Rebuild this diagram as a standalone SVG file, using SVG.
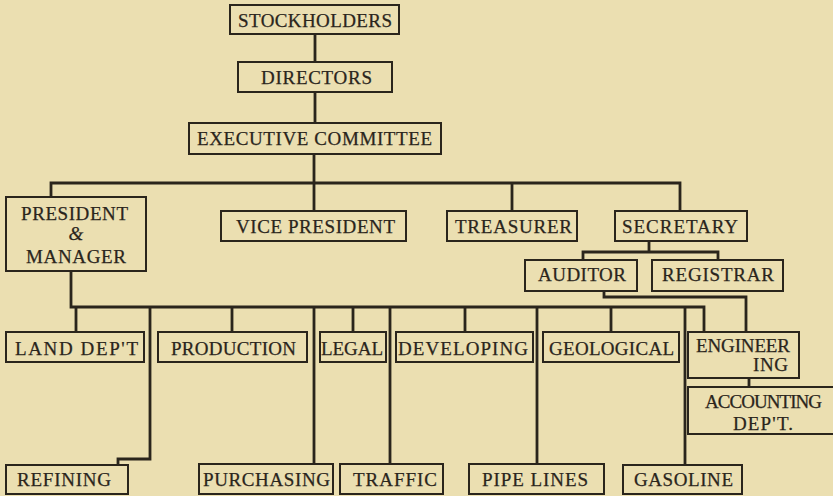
<svg xmlns="http://www.w3.org/2000/svg" width="833" height="496" viewBox="0 0 833 496">
<style>
.bg{fill:#ebdfb1}
.box{fill:none;stroke:#2a251c;stroke-width:2}
.c{fill:none;stroke:#2a251c;stroke-width:2.8;stroke-linejoin:miter}
text{font-family:'Liberation Serif','Times New Roman',serif;font-size:19px;fill:#2a251c;stroke:#2a251c;stroke-width:0.25}
</style>
<rect class="bg" x="0" y="0" width="833" height="496"/>
<g id="connectors">
<path class="c" d="M315,34 V62 M315,92 V123 M314,154 V211"/>
<path class="c" d="M51,197 V183 H680 V211 M512,183 V211"/>
<path class="c" d="M649,241 V252 M583,260 V252 H718 V260"/>
<path class="c" d="M604,291 V297 H746 V332"/>
<path class="c" d="M71,271 V307 H704 V332"/>
<path class="c" d="M76,307 V332 M150,307 V459 H118 V465 M232,307 V332 M314,307 V464 M353,307 V332 M390,307 V464 M465,307 V332 M537,307 V464 M611,307 V332 M685,307 V465"/>
<path class="c" d="M749,378 V387"/>
</g>
<g id="stockholders"><rect class="box" x="230" y="5" width="169" height="29"/><text x="238" y="27" textLength="154" lengthAdjust="spacing">STOCKHOLDERS</text></g>
<g id="directors"><rect class="box" x="238" y="62" width="154" height="30"/><text x="261" y="84" textLength="111" lengthAdjust="spacing">DIRECTORS</text></g>
<g id="executive"><rect class="box" x="189" y="123" width="252" height="31"/><text x="197" y="145" textLength="235" lengthAdjust="spacing">EXECUTIVE COMMITTEE</text></g>
<g id="president"><rect class="box" x="6" y="197" width="140" height="74"/>
<text x="21" y="220" textLength="107" lengthAdjust="spacing">PRESIDENT</text>
<text x="76" y="240" text-anchor="middle" font-style="italic">&amp;</text>
<text x="26" y="263" textLength="100" lengthAdjust="spacing">MANAGER</text></g>
<g id="vicepresident"><rect class="box" x="221" y="211" width="185" height="30"/><text x="236" y="233" textLength="159" lengthAdjust="spacing">VICE PRESIDENT</text></g>
<g id="treasurer"><rect class="box" x="447" y="211" width="130" height="30"/><text x="455" y="233" textLength="117" lengthAdjust="spacing">TREASURER</text></g>
<g id="secretary"><rect class="box" x="615" y="211" width="132" height="30"/><text x="622" y="233" textLength="116" lengthAdjust="spacing">SECRETARY</text></g>
<g id="auditor"><rect class="box" x="525" y="260" width="112" height="31"/><text x="538" y="281" textLength="88" lengthAdjust="spacing">AUDITOR</text></g>
<g id="registrar"><rect class="box" x="652" y="260" width="131" height="31"/><text x="662" y="281" textLength="112" lengthAdjust="spacing">REGISTRAR</text></g>
<g id="land"><rect class="box" x="6" y="332" width="138" height="30"/><text x="15" y="355" textLength="123" lengthAdjust="spacing">LAND DEP'T</text></g>
<g id="production"><rect class="box" x="158" y="332" width="149" height="30"/><text x="171" y="355" textLength="125" lengthAdjust="spacing">PRODUCTION</text></g>
<g id="legal"><rect class="box" x="320" y="332" width="66" height="30"/><text x="321" y="355" textLength="62" lengthAdjust="spacing">LEGAL</text></g>
<g id="developing"><rect class="box" x="396" y="332" width="137" height="30"/><text x="398" y="355" textLength="130" lengthAdjust="spacing">DEVELOPING</text></g>
<g id="geological"><rect class="box" x="543" y="332" width="136" height="30"/><text x="549" y="355" textLength="125" lengthAdjust="spacing">GEOLOGICAL</text></g>
<g id="engineering"><rect class="box" x="688" y="332" width="111" height="46"/>
<text x="696" y="352" textLength="94" lengthAdjust="spacing">ENGINEER</text>
<text x="753" y="371" textLength="35" lengthAdjust="spacing">ING</text></g>
<g id="accounting"><rect class="box" x="688" y="387" width="150" height="47"/>
<text x="705" y="408" textLength="117" lengthAdjust="spacing">ACCOUNTING</text>
<text x="733" y="430" textLength="60" lengthAdjust="spacing">DEP'T.</text></g>
<g id="refining"><rect class="box" x="6" y="465" width="122" height="29"/><text x="17" y="486" textLength="94" lengthAdjust="spacing">REFINING</text></g>
<g id="purchasing"><rect class="box" x="199" y="464" width="134" height="30"/><text x="203" y="486" textLength="127" lengthAdjust="spacing">PURCHASING</text></g>
<g id="traffic"><rect class="box" x="340" y="464" width="103" height="30"/><text x="353" y="486" textLength="84" lengthAdjust="spacing">TRAFFIC</text></g>
<g id="pipelines"><rect class="box" x="469" y="464" width="135" height="30"/><text x="482" y="486" textLength="106" lengthAdjust="spacing">PIPE LINES</text></g>
<g id="gasoline"><rect class="box" x="623" y="465" width="119" height="29"/><text x="634" y="486" textLength="99" lengthAdjust="spacing">GASOLINE</text></g>
</svg>
